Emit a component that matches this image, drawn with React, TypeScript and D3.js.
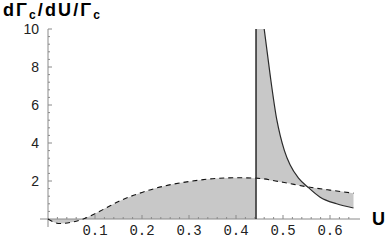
import React from "react";
import * as d3 from "d3";

const poleU = 0.4426;
const dashU = [0, 0.025, 0.05, 0.075, 0.1, 0.125, 0.15, 0.2, 0.25, 0.3, 0.35, 0.4, 0.4426, 0.5, 0.55, 0.6, 0.65];
const dashV = [0, -0.24, -0.17, 0, 0.28, 0.6, 0.92, 1.4, 1.75, 1.97, 2.12, 2.17, 2.15, 1.93, 1.7, 1.52, 1.36];
const solidU = [0.46, 0.472, 0.487, 0.494, 0.503, 0.515, 0.533, 0.552, 0.579, 0.614, 0.65];
const solidV = [10, 7.7, 5.2, 4.4, 3.6, 2.85, 2.15, 1.7, 1.15, 0.8, 0.58];
const xTicks = [0.1, 0.2, 0.3, 0.4, 0.5, 0.6];
const yTicks = [2, 4, 6, 8, 10];

export default function App() {
  const W = 388, H = 240;
  const x = d3.scaleLinear().domain([0, 0.65]).range([48, 353.5]);
  const y = d3.scaleLinear().domain([0, 10]).range([219, 29]);

  const dash = dashU.map((u, i) => [u, dashV[i]] as [number, number]);
  const solid = solidU.map((u, i) => [u, solidV[i]] as [number, number]);

  const line = d3
    .line<[number, number]>()
    .x((d) => x(d[0]))
    .y((d) => y(d[1]))
    .curve(d3.curveMonotoneX);

  const left = dash.filter((d) => d[0] <= poleU);
  const right = dash.filter((d) => d[0] >= poleU);

  const area1 = d3
    .area<[number, number]>()
    .x((d) => x(d[0]))
    .y0(y(0))
    .y1((d) => y(d[1]))
    .curve(d3.curveMonotoneX)(left) as string;

  const solidPath = line(solid) as string;
  const topEdge = `M${x(poleU)},${y(10)}`;
  const lowerPath = (line([...right].reverse()) as string).replace(/^M/, "L");
  const area2 = topEdge + solidPath.replace(/^M/, "L") + lowerPath + "Z";

  const xMinor: number[] = [];
  for (let v = 0.02; v <= 0.645; v += 0.02) {
    const r = Math.round(v * 100) / 100;
    if (Math.abs(r * 10 - Math.round(r * 10)) > 1e-6) xMinor.push(r);
  }
  const yMinor: number[] = [];
  for (let v = 0.4; v < 10; v += 0.4) {
    const r = Math.round(v * 10) / 10;
    if (Math.abs(r / 2 - Math.round(r / 2)) > 1e-6) yMinor.push(r);
  }

  const axisColor = "#8a8a8a";
  const lineColor = "#2a2a2a";

  return (
    <svg width={W} height={H} style={{ position: "absolute", left: 0, top: 0 }}>
      <rect x={0} y={0} width={W} height={H} fill="#fff" />
      <path d={area1} fill="#c8c8c8" />
      <path d={area2} fill="#c8c8c8" />
      {/* axes */}
      <line x1={40} x2={360} y1={y(0)} y2={y(0)} stroke={axisColor} strokeWidth={1} />
      <line x1={x(0)} x2={x(0)} y1={y(10)} y2={227} stroke={axisColor} strokeWidth={1} />
      {xTicks.map((t) => (
        <line key={"xt" + t} x1={x(t)} x2={x(t)} y1={y(0)} y2={y(0) - 4} stroke={axisColor} />
      ))}
      {xMinor.map((t) => (
        <line key={"xm" + t} x1={x(t)} x2={x(t)} y1={y(0)} y2={y(0) - 2} stroke={axisColor} />
      ))}
      {yTicks.map((t) => (
        <line key={"yt" + t} x1={x(0)} x2={x(0) + 4} y1={y(t)} y2={y(t)} stroke={axisColor} />
      ))}
      {yMinor.map((t) => (
        <line key={"ym" + t} x1={x(0)} x2={x(0) + 2} y1={y(t)} y2={y(t)} stroke={axisColor} />
      ))}
      {/* curves */}
      <path d={line(dash) as string} fill="none" stroke="#111" strokeWidth={1.1} strokeDasharray="5,4" />
      <path d={solidPath} fill="none" stroke={lineColor} strokeWidth={1.2} />
      <line x1={x(poleU)} x2={x(poleU)} y1={y(0)} y2={y(10)} stroke={lineColor} strokeWidth={1.5} />
      {/* labels */}
      {xTicks.map((t) => (
        <text key={"xl" + t} x={x(t)} y={235} textAnchor="middle" fontFamily="Liberation Mono, monospace" fontSize={14} fill="#222">
          {t.toFixed(1)}
        </text>
      ))}
      {yTicks.map((t) => (
        <text key={"yl" + t} x={39} y={y(t) + 5} textAnchor="end" fontFamily="Liberation Sans, Arial, sans-serif" fontSize={14} fill="#222">
          {t}
        </text>
      ))}
      <text x={3} y={16} fontFamily="Liberation Sans, Arial, sans-serif" fontWeight="bold" fontSize={18} fill="#000" textLength={97} lengthAdjust="spacing">
        dΓ<tspan fontSize={12} dy={3}>c</tspan>
        <tspan dy={-3}>/dU/Γ</tspan>
        <tspan fontSize={12} dy={3}>c</tspan>
      </text>
      <text x={372} y={225} fontFamily="Liberation Sans, Arial, sans-serif" fontWeight="bold" fontSize={18} fill="#000">
        U
      </text>
    </svg>
  );
}
